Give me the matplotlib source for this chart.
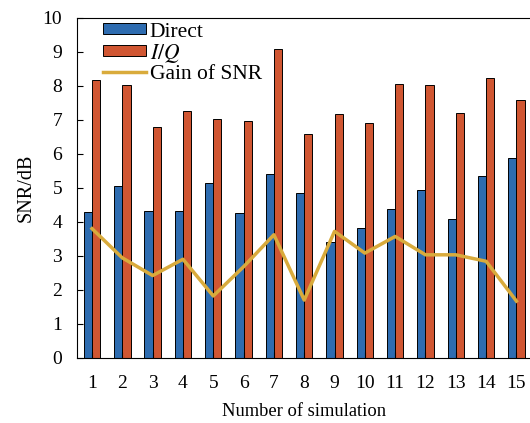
import matplotlib.pyplot as plt
import numpy as np

plt.rcParams['font.family'] = ['Liberation Serif', 'DejaVu Serif']
plt.rcParams['mathtext.fontset'] = 'stix'

runs = list(range(1, 16))
direct = [4.30, 5.04, 4.31, 4.31, 5.14, 4.27, 5.42, 4.84, 3.40, 3.81, 4.38, 4.95, 4.09, 5.36, 5.87]
iq = [8.16, 8.02, 6.80, 7.25, 7.03, 6.95, 9.07, 6.58, 7.17, 6.92, 8.06, 8.02, 7.19, 8.24, 7.57]
gain = [3.80, 2.94, 2.42, 2.90, 1.82, 2.68, 3.62, 1.70, 3.72, 3.08, 3.57, 3.03, 3.03, 2.84, 1.67]

fig = plt.figure(figsize=(5.3, 4.23), dpi=100)
ax = fig.add_axes([0.145, 0.154, 0.858, 0.804])

x = np.array(runs)
w = 0.27
b1 = ax.bar(x - w / 2, direct, w, color='#2e6cb0', edgecolor='black', linewidth=0.7, label='Direct')
b2 = ax.bar(x + w / 2, iq, w, color='#d05632', edgecolor='black', linewidth=0.7, label='$I/Q$')
ln, = ax.plot(x, gain, color='#d9ab3c', linewidth=2.5, label='Gain of SNR')

ax.set_xlim(0.5, 15.5)
ax.set_ylim(0, 10)
ax.set_xticks(runs)
ax.set_yticks(range(0, 11))
ax.tick_params(direction='in', labelsize=14, length=4)
ax.tick_params(axis='x', pad=12.5)
ax.tick_params(axis='y', pad=10.5)
ax.spines['right'].set_visible(False)
ax.set_xlabel('Number of simulation', fontsize=13.3, labelpad=7.5)
ax.set_ylabel('SNR/dB', fontsize=14.5, labelpad=5)

ax.legend(handles=[b1, b2, ln], loc='upper left', bbox_to_anchor=(0.03, 1.024),
          frameon=False, fontsize=15.5, handlelength=2.0, handleheight=0.4,
          labelspacing=0.0, handletextpad=0.15, borderaxespad=0.2)

fig.savefig('out.png', dpi=100)
